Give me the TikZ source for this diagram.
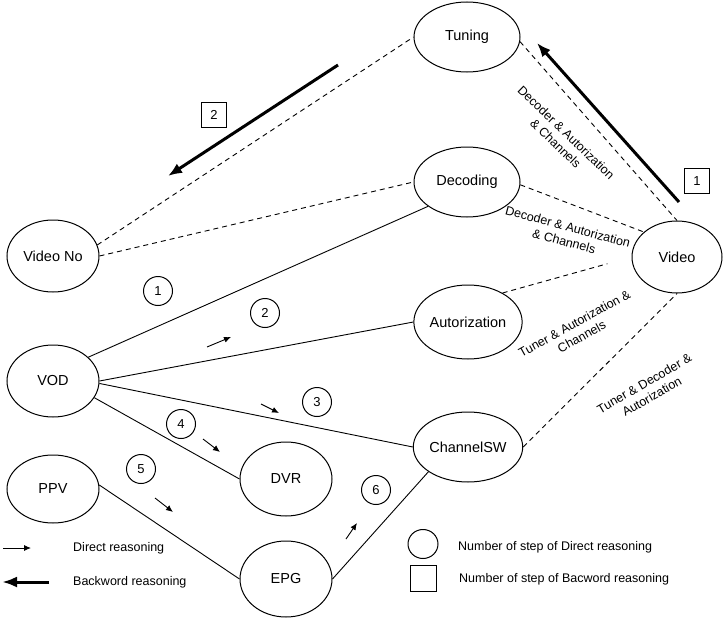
\documentclass[tikz,border=0pt]{standalone}
\usepackage{fontspec}
\setmainfont{Liberation Sans}
\usetikzlibrary{shapes.geometric,arrows.meta,calc}
\begin{document}
\begin{tikzpicture}[x=1pt,y=-1pt,
  ell/.style={ellipse,draw,line width=1pt,inner sep=0pt,font=\fontsize{14.5}{17}\selectfont},
  num/.style={circle,draw,line width=1pt,minimum size=29pt,inner sep=0pt,font=\fontsize{13}{15}\selectfont},
  sqnum/.style={rectangle,draw,line width=1pt,minimum size=25pt,inner sep=0pt,font=\fontsize{13}{15}\selectfont},
  link/.style={line width=0.9pt},
  dlink/.style={line width=0.9pt,dash pattern=on 5pt off 4pt},
  elabel/.style={font=\fontsize{12.5}{15}\selectfont,align=center,inner sep=0pt},
  leg/.style={font=\fontsize{12.5}{15}\selectfont,anchor=west,inner sep=0pt},
  direct/.style={line width=0.9pt,-{Latex[length=7pt,width=6pt]}},
  back/.style={line width=3pt,-{Latex[length=14pt,width=11pt]}},
]
\useasboundingbox[fill=white] (0,0) rectangle (728,618);

% ellipse nodes
\node[ell,minimum width=106pt,minimum height=70pt] (tun) at (467,37) {Tuning};
\node[ell,minimum width=106pt,minimum height=70pt] (dec) at (467,182) {Decoding};
\node[ell,minimum width=92pt,minimum height=72pt] (vno) at (53,256) {Video No};
\node[ell,minimum width=92pt,minimum height=72pt] (vod) at (53,381) {VOD};
\node[ell,minimum width=102pt,minimum height=74pt] (aut) at (468,322) {Autorization};
\node[ell,minimum width=102pt,minimum height=70pt] (csw) at (468,447) {ChannelSW};
\node[ell,minimum width=90pt,minimum height=72pt] (vid) at (677,257) {Video};
\node[ell,minimum width=92pt,minimum height=74pt] (dvr) at (286,479) {DVR};
\node[ell,minimum width=92pt,minimum height=68pt] (ppv) at (53,489) {PPV};
\node[ell,minimum width=92pt,minimum height=76pt] (epg) at (286,579) {EPG};

% dashed connectors
\draw[dlink] (vno.14) -- (tun.west);
\draw[dlink] (vno.east) -- (dec.west);
\draw[dlink] (tun.-5) -- (vid.north);
\draw[dlink] (dec.-3) -- (vid.143);
\draw[dlink,shorten >=25pt] (aut.40) -- (vid.west);
\draw[dlink] (csw.east) -- (vid.south);

% solid connectors
\draw[link] (vod.34) -- (dec.212);
\draw[link] (vod.east) -- (aut.west);
\draw[link] (vod.-3) -- (csw.west);
\draw[link] (vod.-22) -- (dvr.west);
\draw[link] (ppv.5) -- (epg.west);
\draw[link] (epg.east) -- (csw.212);

% edge labels
\node[elabel,rotate=-44] (l1) at (561,138) {Decoder \& Autorization\\\& Channels};
\node[elabel,rotate=-15] (l2) at (566,234) {Decoder \& Autorization\\\& Channels};
\node[elabel,rotate=29] (l3) at (578,330) {Tuner \& Autorization \&\\Channels};
\node[elabel,rotate=30] (l4) at (648,390) {Tuner \& Decoder \&\\Autorization};

% backward reasoning arrows
\coordinate (b1s) at (679,202);
\coordinate (b1e) at (537,43);
\draw[back] (b1s) -- (b1e);
\coordinate (b2s) at (338,65);
\coordinate (b2e) at (168,176);
\draw[back] (b2s) -- (b2e);
\node[sqnum] (s1) at (697,181) {1};
\node[sqnum] (s2) at (214,115) {2};

% numbered steps
\node[num] (n1) at (158,291) {1};
\node[num] (n2) at (265,313) {2};
\node[num] (n3) at (317,402) {3};
\node[num] (n4) at (181,424) {4};
\node[num] (n5) at (141,469) {5};
\node[num] (n6) at (376,490) {6};

% direct reasoning arrows
\coordinate (a2s) at (207,347); \coordinate (a2e) at (231,337);
\draw[direct] (a2s) -- (a2e);
\coordinate (a3s) at (261,404); \coordinate (a3e) at (279,413);
\draw[direct] (a3s) -- (a3e);
\coordinate (a4s) at (203,439); \coordinate (a4e) at (220,452);
\draw[direct] (a4s) -- (a4e);
\coordinate (a5s) at (155,498); \coordinate (a5e) at (173,512);
\draw[direct] (a5s) -- (a5e);
\coordinate (a6s) at (346,539); \coordinate (a6e) at (357,523);
\draw[direct] (a6s) -- (a6e);

% legend
\coordinate (ld1) at (3,548); \coordinate (ld2) at (31,548);
\draw[direct] (ld1) -- (ld2);
\node[leg] (ldt) at (73,548) {Direct reasoning};
\coordinate (lb1) at (49,582); \coordinate (lb2) at (2,582);
\draw[back,-{Latex[length=15pt,width=11pt]}] (lb1) -- (lb2);
\node[leg] (lbt) at (73,582) {Backword reasoning};
\node[ellipse,draw,line width=1pt,minimum width=30pt,minimum height=29pt,inner sep=0pt] (lc) at (423,544) {};
\node[leg] (lct) at (458,547) {Number of step of Direct reasoning};
\node[sqnum,minimum size=26pt] (ls) at (423,578) {};
\node[leg] (lst) at (459,579) {Number of step of Bacword reasoning};
\end{tikzpicture}
\end{document}
